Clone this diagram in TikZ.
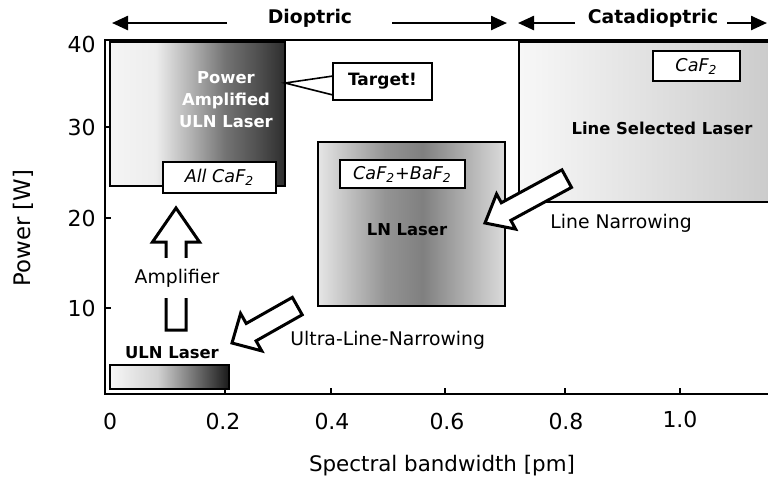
\documentclass[tikz,border=0pt]{standalone}
\usepackage{fontspec}
\setmainfont{DejaVu Sans}
\usetikzlibrary{arrows.meta,calc}
\pgfdeclarehorizontalshading{ampsh}{100bp}{color(0bp)=(black!4); color(25bp)=(black!4); color(38bp)=(black!7); color(48bp)=(black!30); color(58bp)=(black!55); color(68bp)=(black!70); color(75bp)=(black!82); color(100bp)=(black!82)}
\pgfdeclarehorizontalshading{lnsh}{100bp}{color(0bp)=(black!10); color(25bp)=(black!10); color(43bp)=(black!42); color(53bp)=(black!50); color(75bp)=(black!14); color(100bp)=(black!14)}
\pgfdeclarehorizontalshading{ulnsh}{100bp}{color(0bp)=(black!3); color(25bp)=(black!3); color(45bp)=(black!18); color(75bp)=(black!90); color(100bp)=(black!90)}
\pgfdeclarehorizontalshading{lssh}{100bp}{color(0bp)=(black!3); color(25bp)=(black!3); color(40bp)=(black!8); color(75bp)=(black!20); color(100bp)=(black!20)}
\tikzset{
  ax/.style={line width=1pt},
  boxst/.style={draw, line width=1pt, inner sep=0pt},
  lbl/.style={font=\fontsize{9.4}{11}\selectfont, inner sep=1pt},
  blbl/.style={font=\fontsize{8.2}{10}\selectfont\bfseries, inner sep=1pt},
  ticklbl/.style={font=\fontsize{11}{13}\selectfont, inner sep=0pt},
  tag/.style={draw, fill=white, line width=0.8pt, inner sep=0pt, font=\fontsize{8.8}{10}\selectfont\itshape},
  fat/.style={draw, fill=white, line width=1.5pt, line join=miter},
  toparr/.style={line width=1.2pt, -{Triangle[length=8pt,width=7pt]}},
  toplbl/.style={font=\fontsize{9.4}{11}\selectfont\bfseries, inner sep=0pt},
  pics/fatarrow/.style n args={4}{code={
    \draw[fat] (0,0) -- (-#4,#3) -- (-#4,#2) -- (-#1,#2) -- (-#1,-#2) -- (-#4,-#2) -- (-#4,-#3) -- cycle;
  }}
}
\begin{document}
\begin{tikzpicture}[x=0.5pt,y=-0.5pt]
\useasboundingbox (0,0) rectangle (768,479);

% Line selected laser region (right, open)
\shade[shading=lssh] (519,42) rectangle (768,202);
\draw[line width=1pt] (768,42) -- (519,42) -- (519,202) -- (768,202);
\node[tag, minimum width=43.5pt, minimum height=15pt] (caf) at (696.5,66) {CaF\textsubscript{2}};
\node[blbl] (lsl) at (662,128) {Line Selected Laser};

% Power amplified ULN laser
\node[boxst, shade, shading=ampsh, minimum width=87.5pt, minimum height=72pt] (amp) at (197.5,114) {};
\node[text=white, align=center, inner sep=0pt, font=\fontsize{8.2}{11}\selectfont\bfseries] (amptxt) at (226,100) {Power\\Amplified\\ULN Laser};
\node[tag, minimum width=56.5pt, minimum height=15.5pt] (allcaf) at (219.5,177.5) {All CaF\textsubscript{2}};

% Target callout
\coordinate (ctip) at (285,83);
\coordinate (tw1) at (333,76);
\coordinate (tw2) at (333,95);
\filldraw[fill=white, line width=0.8pt] (tw1) -- (ctip) -- (tw2);
\node[draw, fill=white, line width=0.8pt, inner sep=0pt, minimum width=49.5pt, minimum height=18.5pt,
      font=\fontsize{8.5}{10}\selectfont\bfseries] (tgt) at (382.5,81.5) {Target!};

% LN laser
\node[boxst, shade, shading=lnsh, minimum width=93.5pt, minimum height=82pt] (ln) at (411.5,224) {};
\node[tag, minimum width=62.5pt, minimum height=14pt] (cb) at (402.5,174) {CaF\textsubscript{2}+BaF\textsubscript{2}};
\node[blbl] (lntxt) at (407,230) {LN Laser};

% ULN laser bar
\node[boxst, shade, shading=ulnsh, minimum width=59.5pt, minimum height=12pt] (uln) at (169.5,377) {};
\node[blbl] (ulntxt) at (172,353) {ULN Laser};

% axes
\draw[ax] (768,40) -- (105,40) -- (105,394) -- (768,394);
\foreach \yy in {127,218,308} \draw[ax] (105,\yy) -- (111,\yy);
\foreach \xx in {225,331,445,565,680} \draw[ax] (\xx,394) -- (\xx,388);

% tick labels
\node[ticklbl, anchor=east] (y40) at (96,44) {40};
\node[ticklbl, anchor=east] (y30) at (96,127) {30};
\node[ticklbl, anchor=east] (y20) at (96,218) {20};
\node[ticklbl, anchor=east] (y10) at (96,308) {10};
\node[ticklbl] (x0) at (110,421) {0};
\node[ticklbl] (x2) at (223,421) {0.2};
\node[ticklbl] (x4) at (332,421) {0.4};
\node[ticklbl] (x6) at (447,421) {0.6};
\node[ticklbl] (x8) at (566,421) {0.8};
\node[ticklbl] (x10) at (680,419) {1.0};
\node[font=\fontsize{10.7}{12}\selectfont] (xlab) at (442,466) {Spectral bandwidth [pm]};
\node[font=\fontsize{11.4}{13}\selectfont, rotate=90] (ylab) at (23,228) {Power [W]};

% top labels and arrows
\node[toplbl] (dio) at (310,18) {Dioptric};
\node[toplbl] (cata) at (653,18) {Catadioptric};
\coordinate (d1a) at (227,23); \coordinate (d1b) at (112,23);
\coordinate (d2a) at (392,23); \coordinate (d2b) at (507,23);
\coordinate (c1a) at (575,23); \coordinate (c1b) at (518,23);
\coordinate (c2a) at (727,23); \coordinate (c2b) at (767,23);
\draw[toparr] (d1a) -- (d1b);
\draw[toparr] (d2a) -- (d2b);
\draw[toparr] (c1a) -- (c1b);
\draw[toparr] (c2a) -- (c2b);

% fat arrows
\pic[rotate=90] at (176,208) {fatarrow={122}{10}{23.5}{34}};
\node[lbl, fill=white, minimum height=20pt, inner sep=2pt] (ampl) at (177,278) {Amplifier};
\pic[rotate=209.5] at (232,343) {fatarrow={75}{10}{21.5}{22}};
\node[lbl, anchor=west] (ulnl) at (288,340) {Ultra-Line-Narrowing};
\pic[rotate=208.5] at (485,223) {fatarrow={93}{10}{20}{24}};
\node[lbl, anchor=west] (lnl) at (548,223) {Line Narrowing};
\end{tikzpicture}
\end{document}
